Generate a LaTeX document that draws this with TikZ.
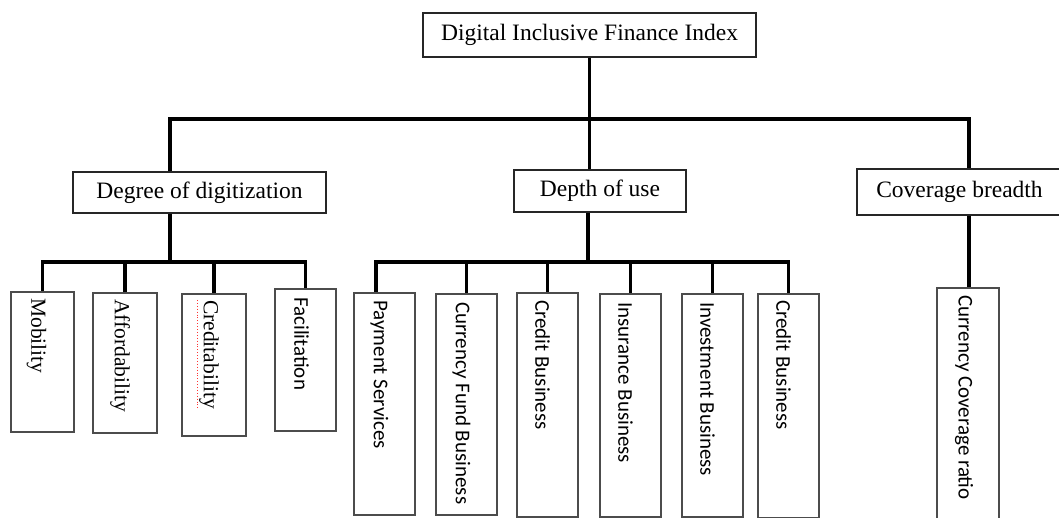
\documentclass[tikz,border=0pt]{standalone}
\usepackage{fontspec}
\setmainfont{Liberation Serif}
\setsansfont{Carlito}

\begin{document}
\begin{tikzpicture}[x=1pt,y=-1pt,
    box/.style={draw=black!85,line width=1.1pt,fill=white,inner sep=0pt,
      font=\fontsize{23.5}{28}\selectfont},
    leaf/.style={draw=black!70,line width=1.6pt,fill=white,inner sep=0pt,
      anchor=north},
    vtext/.style={rotate=-90,anchor=west,inner sep=0pt,
      font=\fontsize{21.5}{25}\selectfont},
    vsans/.style={vtext,font=\fontsize{21}{25}\selectfont\sffamily},
    branch/.style={line width=3.6pt,line join=miter}]
  \clip (0,0) rectangle (1059,518);
  \fill[white] (0,0) rectangle (1059,518);

  % index and its three dimensions
  \node[box,minimum width=333pt,minimum height=44pt] (dfi) at (589.5,35) {Digital Inclusive Finance Index};
  \node[box,minimum width=253pt,minimum height=41pt] (digit) at (199.5,192.5) {Degree of digitization};
  \node[box,minimum width=172pt,minimum height=42pt] (depth) at (600,191) {Depth of use};
  \node[box,minimum width=205pt,minimum height=46pt] (cover) at (959.5,192) {Coverage breadth};

  % indicators
  \node[leaf,minimum width=63pt,minimum height=140pt] (mob) at (42.5,291) {};
  \node[leaf,minimum width=64pt,minimum height=140pt] (aff) at (125,292) {};
  \node[leaf,minimum width=64pt,minimum height=142pt] (cred) at (214,293) {};
  \node[leaf,minimum width=61pt,minimum height=142pt] (fac) at (305.5,288) {};
  \node[leaf,minimum width=61pt,minimum height=222pt] (pay) at (384.5,292) {};
  \node[leaf,minimum width=61pt,minimum height=221pt] (fund) at (466.5,293) {};
  \node[leaf,minimum width=61pt,minimum height=224pt] (crd1) at (547.5,292) {};
  \node[leaf,minimum width=61pt,minimum height=223pt] (ins) at (630.5,293) {};
  \node[leaf,minimum width=61pt,minimum height=223pt] (inv) at (712.5,293) {};
  \node[leaf,minimum width=61pt,minimum height=224pt] (crd2) at (788.5,293) {};
  \node[leaf,minimum width=62pt,minimum height=245pt] (ccr) at (968,287) {};

  \node[vtext] (mobtxt) at ([xshift=-6pt,yshift=-7pt]mob.north) {Mobility};
  \node[vtext] (afftxt) at ([xshift=-5pt,yshift=-7pt]aff.north) {Affordability};
  \node[vtext] (credtxt) at ([xshift=-5pt,yshift=-7pt]cred.north) {Creditability};
  \node[vsans] (factxt) at ([xshift=-4pt,yshift=-9pt]fac.north) {Facilitation};
  \node[vsans] (paytxt) at ([xshift=-5pt,yshift=-8pt]pay.north) {Payment Services};
  \node[vsans] (fundtxt) at ([xshift=-5pt,yshift=-9pt]fund.north) {Currency Fund Business};
  \node[vsans] (crd1txt) at ([xshift=-5pt,yshift=-8pt]crd1.north) {Credit Business};
  \node[vsans] (instxt) at ([xshift=-5pt,yshift=-9pt]ins.north) {Insurance Business};
  \node[vsans] (invtxt) at ([xshift=-5pt,yshift=-9pt]inv.north) {Investment Business};
  \node[vsans] (crd2txt) at ([xshift=-5pt,yshift=-7pt]crd2.north) {Credit Business};
  \node[vsans] (ccrtxt) at ([xshift=-4pt,yshift=-8pt]ccr.north) {Currency Coverage ratio};

  % spell-check underline
  \draw[red!80,dotted,line width=0.9pt] ([xshift=-1.5pt]credtxt.south west) -- ([xshift=-1.5pt]credtxt.south east);

  % branches
  \coordinate (busL) at (170,119);
  \coordinate (busR) at (969,119);
  \coordinate (busD) at (170,262);
  \coordinate (busU) at (588,262);
  \coordinate (busP) at (376,262);

  \draw[branch] (dfi.south) -- (dfi.south |- busL);
  \draw[branch] (busL |- digit.north) -- (busL) -- (busR) -- (busR |- cover.north);
  \draw[branch] (dfi.south |- busL) -- (dfi.south |- depth.north);

  \draw[branch] (digit.south -| busD) -- (busD);
  \draw[branch] (mob.north) -- (mob.north |- busD) -- (fac.north |- busD) -- (fac.north);
  \foreach \n in {aff,cred}
    \draw[branch] (\n.north |- busD) -- (\n.north);

  \draw[branch] (depth.south -| busU) -- (busU);
  \draw[branch] (busP |- pay.north) -- (busP) -- (crd2.north |- busU) -- (crd2.north);
  \foreach \n in {fund,crd1,ins,inv}
    \draw[branch] (\n.north |- busU) -- (\n.north);

  \draw[branch] (cover.south -| busR) -- (busR |- ccr.north);
\end{tikzpicture}
\end{document}
